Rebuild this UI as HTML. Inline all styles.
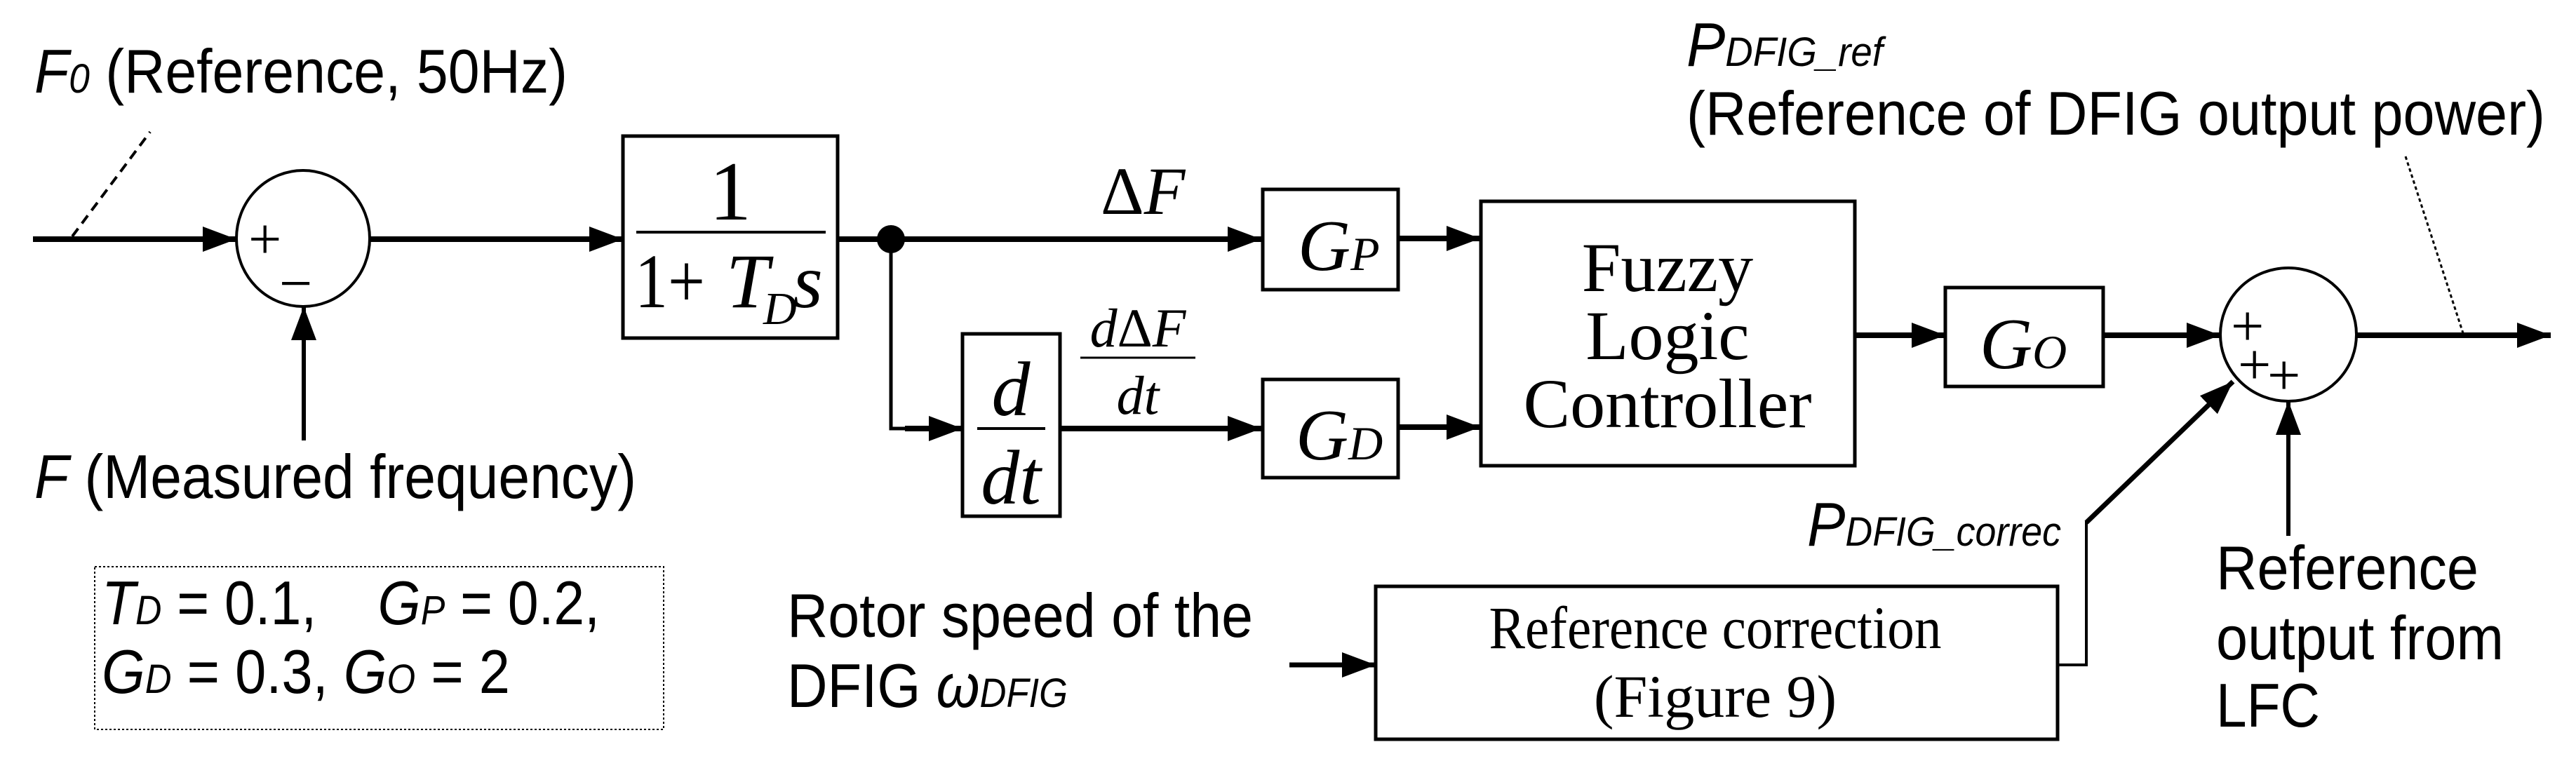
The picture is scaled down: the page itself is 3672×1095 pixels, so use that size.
<!DOCTYPE html>
<html><head><meta charset="utf-8"><style>
html,body{margin:0;padding:0;background:#fff;}
svg{display:block;}
.s{font-family:"Liberation Sans",sans-serif;}
.m{font-family:"Liberation Serif",serif;}
</style></head><body>
<svg width="3672" height="1095" viewBox="0 0 3672 1095" xmlns="http://www.w3.org/2000/svg">
<defs>
<marker id="a" markerWidth="48" markerHeight="36" refX="48" refY="18" orient="auto" markerUnits="userSpaceOnUse">
<path d="M0,0 L48,18 L0,36 Z" fill="#000"/></marker>
</defs>
<g stroke="#000" fill="none">
<line x1="47" y1="341" x2="337" y2="341" stroke-width="8" marker-end="url(#a)"/>
<line x1="103" y1="337" x2="214" y2="188" stroke-width="4" stroke-dasharray="14,9"/>
<ellipse cx="432" cy="340" rx="95" ry="97" stroke-width="4"/>
<line x1="527" y1="341" x2="888" y2="341" stroke-width="8" marker-end="url(#a)"/>
<line x1="433" y1="628" x2="433" y2="437" stroke-width="6" marker-end="url(#a)"/>
<rect x="888" y="194" width="306" height="288" stroke-width="5"/>
<line x1="907" y1="331" x2="1177" y2="331" stroke-width="4"/>
<line x1="1194" y1="341" x2="1798" y2="341" stroke-width="8" marker-end="url(#a)"/>
<polyline points="1270,341 1270,611 1372,611" stroke-width="5" />
<line x1="1290" y1="611" x2="1372" y2="611" stroke-width="8" marker-end="url(#a)"/>
<rect x="1372" y="476" width="139" height="260" stroke-width="5"/>
<line x1="1393" y1="611" x2="1490" y2="611" stroke-width="4"/>
<line x1="1511" y1="611" x2="1798" y2="611" stroke-width="8" marker-end="url(#a)"/>
<line x1="1540" y1="510" x2="1704" y2="510" stroke-width="3"/>
<rect x="1800" y="270" width="193" height="143" stroke-width="5"/>
<rect x="1800" y="541" width="193" height="140" stroke-width="5"/>
<line x1="1993" y1="340" x2="2110" y2="340" stroke-width="8" marker-end="url(#a)"/>
<line x1="1993" y1="609" x2="2110" y2="609" stroke-width="8" marker-end="url(#a)"/>
<rect x="2111" y="287" width="533" height="377" stroke-width="5"/>
<line x1="2644" y1="478" x2="2773" y2="478" stroke-width="8" marker-end="url(#a)"/>
<rect x="2773" y="410" width="225" height="141" stroke-width="5"/>
<line x1="2998" y1="478" x2="3165" y2="478" stroke-width="8" marker-end="url(#a)"/>
<ellipse cx="3262" cy="477" rx="97" ry="95" stroke-width="4"/>
<line x1="3358" y1="478" x2="3636" y2="478" stroke-width="8" marker-end="url(#a)"/>
<line x1="3429" y1="223" x2="3511" y2="475" stroke-width="3" stroke-dasharray="5,4"/>
<line x1="3262" y1="764" x2="3262" y2="572" stroke-width="6" marker-end="url(#a)"/>
<polyline points="2933,948 2974,948 2974,743" stroke-width="4"/>
<line x1="2974" y1="745" x2="3183" y2="544" stroke-width="7" marker-end="url(#a)"/>
<rect x="1961" y="836" width="972" height="218" stroke-width="5"/>
<line x1="1838" y1="948" x2="1961" y2="948" stroke-width="7" marker-end="url(#a)"/>
<rect x="135" y="808" width="811" height="232" stroke-width="2" stroke-dasharray="3,3"/>
</g>
<circle cx="1270" cy="341" r="20" fill="#000"/>
<g class="m" font-size="84" fill="#000">
<text x="354" y="369">+</text>
<text x="398" y="432">−</text>
<text x="3180" y="493">+</text>
<text x="3190" y="548">+</text>
<text x="3232" y="563">+</text>
</g>
<g class="m" fill="#000">
<text x="1041" y="313" font-size="120" text-anchor="middle">1</text>
<text x="905" y="438" font-size="110" textLength="100" lengthAdjust="spacingAndGlyphs">1+</text>
<text x="1035" y="438" font-size="110" font-style="italic">T</text>
<text x="1088" y="462" font-size="66" font-style="italic">D</text>
<text x="1130" y="438" font-size="110" font-style="italic">s</text>
<text x="1441" y="592" font-size="110" font-style="italic" text-anchor="middle">d</text>
<text x="1441" y="718" font-size="110" font-style="italic" text-anchor="middle">dt</text>
<text x="1569" y="305" font-size="96">Δ<tspan font-style="italic">F</tspan></text>
<text x="1622" y="494" font-size="78" text-anchor="middle"><tspan font-style="italic">d</tspan>Δ<tspan font-style="italic">F</tspan></text>
<text x="1622" y="590" font-size="78" font-style="italic" text-anchor="middle">dt</text>
<text x="1850" y="385" font-size="104" font-style="italic">G<tspan font-size="68">P</tspan></text>
<text x="1847" y="655" font-size="104" font-style="italic">G<tspan font-size="68">D</tspan></text>
<text x="2822" y="525" font-size="104" font-style="italic">G<tspan font-size="68">O</tspan></text>
<text x="2377" y="415" font-size="100" text-anchor="middle">Fuzzy</text>
<text x="2377" y="512" font-size="100" text-anchor="middle">Logic</text>
<text x="2377" y="609" font-size="100" text-anchor="middle">Controller</text>
<text x="2445" y="924" font-size="86" text-anchor="middle" textLength="645" lengthAdjust="spacingAndGlyphs">Reference correction</text>
<text x="2445" y="1022" font-size="86" text-anchor="middle">(Figure 9)</text>
</g>
<g class="s" fill="#000" font-size="88">
<text x="49" y="132" textLength="760" lengthAdjust="spacingAndGlyphs"><tspan font-style="italic">F</tspan><tspan font-style="italic" font-size="58">0</tspan> (Reference, 50Hz)</text>
<text x="49" y="710" textLength="858" lengthAdjust="spacingAndGlyphs"><tspan font-style="italic">F</tspan> (Measured frequency)</text>
<text x="145" y="890" textLength="710" lengthAdjust="spacingAndGlyphs"><tspan font-style="italic">T</tspan><tspan font-style="italic" font-size="58">D</tspan> = 0.1,&#160;&#160;&#160;&#160;<tspan font-style="italic">G</tspan><tspan font-style="italic" font-size="58">P</tspan> = 0.2,</text>
<text x="145" y="988" textLength="582" lengthAdjust="spacingAndGlyphs"><tspan font-style="italic">G</tspan><tspan font-style="italic" font-size="58">D</tspan> = 0.3, <tspan font-style="italic">G</tspan><tspan font-style="italic" font-size="58">O</tspan> = 2</text>
<text x="1122" y="908" textLength="664" lengthAdjust="spacingAndGlyphs">Rotor speed of the</text>
<text x="1122" y="1008" textLength="400" lengthAdjust="spacingAndGlyphs">DFIG <tspan font-style="italic">ω</tspan><tspan font-style="italic" font-size="58">DFIG</tspan></text>
<text x="2404" y="94" textLength="280" lengthAdjust="spacingAndGlyphs"><tspan font-style="italic">P</tspan><tspan font-style="italic" font-size="58">DFIG_ref</tspan></text>
<text x="2404" y="192" textLength="1224" lengthAdjust="spacingAndGlyphs">(Reference of DFIG output power)</text>
<text x="2576" y="778" textLength="362" lengthAdjust="spacingAndGlyphs"><tspan font-style="italic">P</tspan><tspan font-style="italic" font-size="58">DFIG_correc</tspan></text>
<text x="3159" y="840" textLength="374" lengthAdjust="spacingAndGlyphs">Reference</text>
<text x="3159" y="940" textLength="410" lengthAdjust="spacingAndGlyphs">output from</text>
<text x="3159" y="1036" textLength="148" lengthAdjust="spacingAndGlyphs">LFC</text>
</g>
</svg>
</body></html>
